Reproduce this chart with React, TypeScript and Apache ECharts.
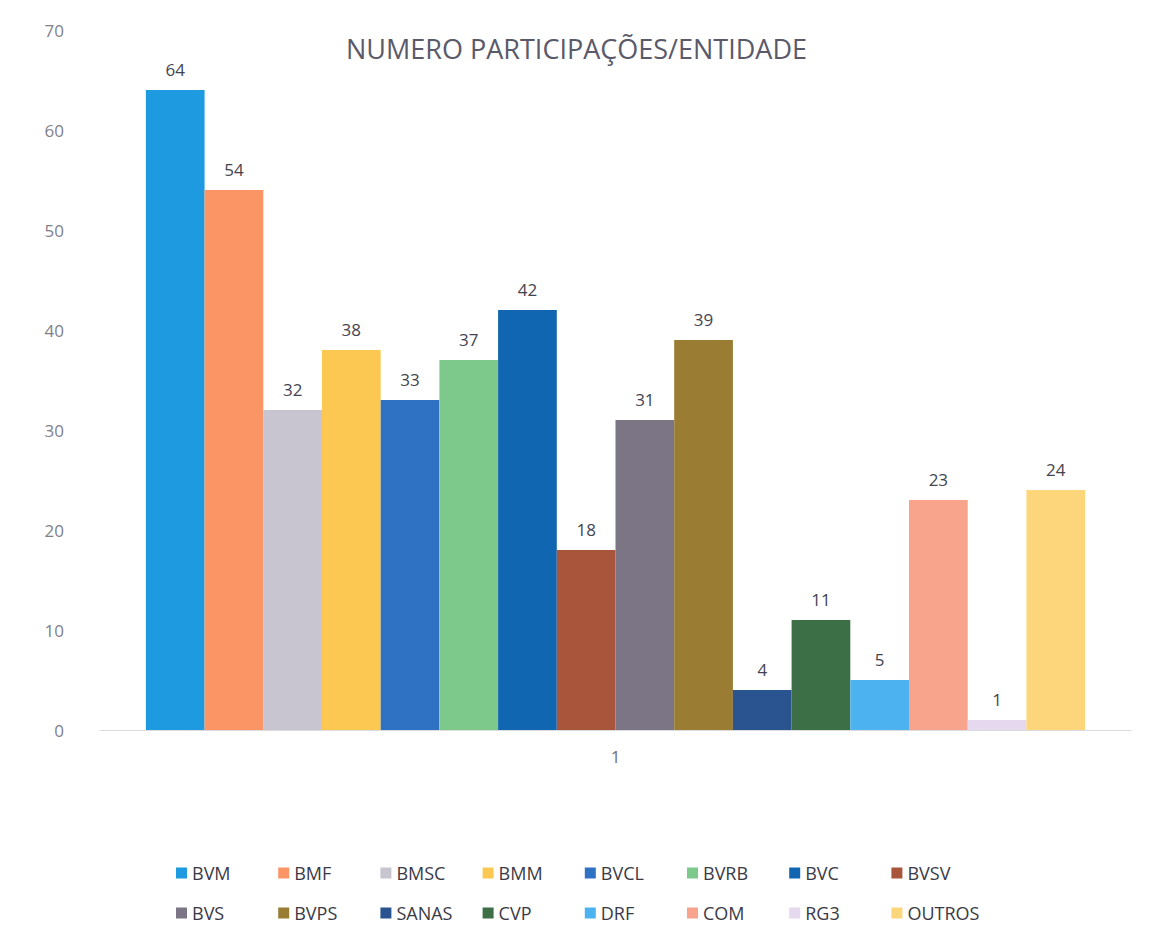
import React, { useEffect, useRef } from "react";
import * as echarts from "echarts";

const categories = ["1"];
const seriesNames = ["BVM", "BMF", "BMSC", "BMM", "BVCL", "BVRB", "BVC", "BVSV", "BVS", "BVPS", "SANAS", "CVP", "DRF", "COM", "RG3", "OUTROS"];
const seriesValues = [64, 54, 32, 38, 33, 37, 42, 18, 31, 39, 4, 11, 5, 23, 1, 24];
const seriesColors = ["#1e9be0", "#fb9566", "#c9c5d0", "#fdc852", "#2f71c2", "#7dc98c", "#1066b0", "#a8553b", "#7b7585", "#9b7c33", "#2a5490", "#3c6f46", "#4db2f0", "#f8a38b", "#e6d8ef", "#fdd67c"];
const yTicks = [0, 10, 20, 30, 40, 50, 60, 70];
const titleText = "NUMERO PARTICIPAÇÕES/ENTIDADE";

const FONT = "'Open Sans', 'Noto Sans', sans-serif";

export default function App() {
  const ref = useRef<HTMLDivElement>(null);
  useEffect(() => {
    if (!ref.current) return;
    const chart = echarts.init(ref.current, undefined, { renderer: "svg" });
    const legends = seriesNames.map((name, i) => ({
      orient: "horizontal" as const,
      left: 163 + (i % 8) * 102.2,
      top: i < 8 ? 851 : 891,
      itemWidth: 11,
      itemHeight: 11,
      itemGap: 10,
      icon: "rect",
      data: [name],
      textStyle: { fontFamily: FONT, fontSize: 18, color: "#3a3a46" },
    }));
    chart.setOption({
      animation: false,
      textStyle: { fontFamily: FONT },
      title: {
        text: titleText,
        left: "center",
        top: 22,
        textStyle: { fontFamily: FONT, fontSize: 27, fontWeight: "normal", color: "#5a5a6a" },
      },
      legend: legends,
      grid: { left: 92, right: 14, top: 22, bottom: 207, containLabel: false },
      xAxis: {
        type: "category",
        data: categories,
        axisLine: { show: true, lineStyle: { color: "#dcdcdc", width: 1 } },
        axisTick: { show: false },
        axisLabel: { color: "#707080", fontSize: 17, margin: 18, fontFamily: FONT },
      },
      yAxis: {
        type: "value",
        min: yTicks[0],
        max: yTicks[yTicks.length - 1],
        interval: 10,
        axisLine: { show: false },
        axisTick: { show: false },
        splitLine: { show: false },
        axisLabel: { color: "#80808c", fontSize: 17, margin: 36, fontFamily: FONT },
      },
      series: seriesNames.map((name, i) => ({
        name,
        type: "bar",
        data: [seriesValues[i]],
        barGap: "0%",
        barCategoryGap: "8.9%",
        itemStyle: { color: seriesColors[i] },
        label: {
          show: true,
          position: "top",
          distance: 12,
          color: "#44444f",
          fontSize: 17,
          fontFamily: FONT,
        },
      })),
    });
    return () => chart.dispose();
  }, []);
  return <div ref={ref} style={{ width: 1137, height: 929 }} />;
}
